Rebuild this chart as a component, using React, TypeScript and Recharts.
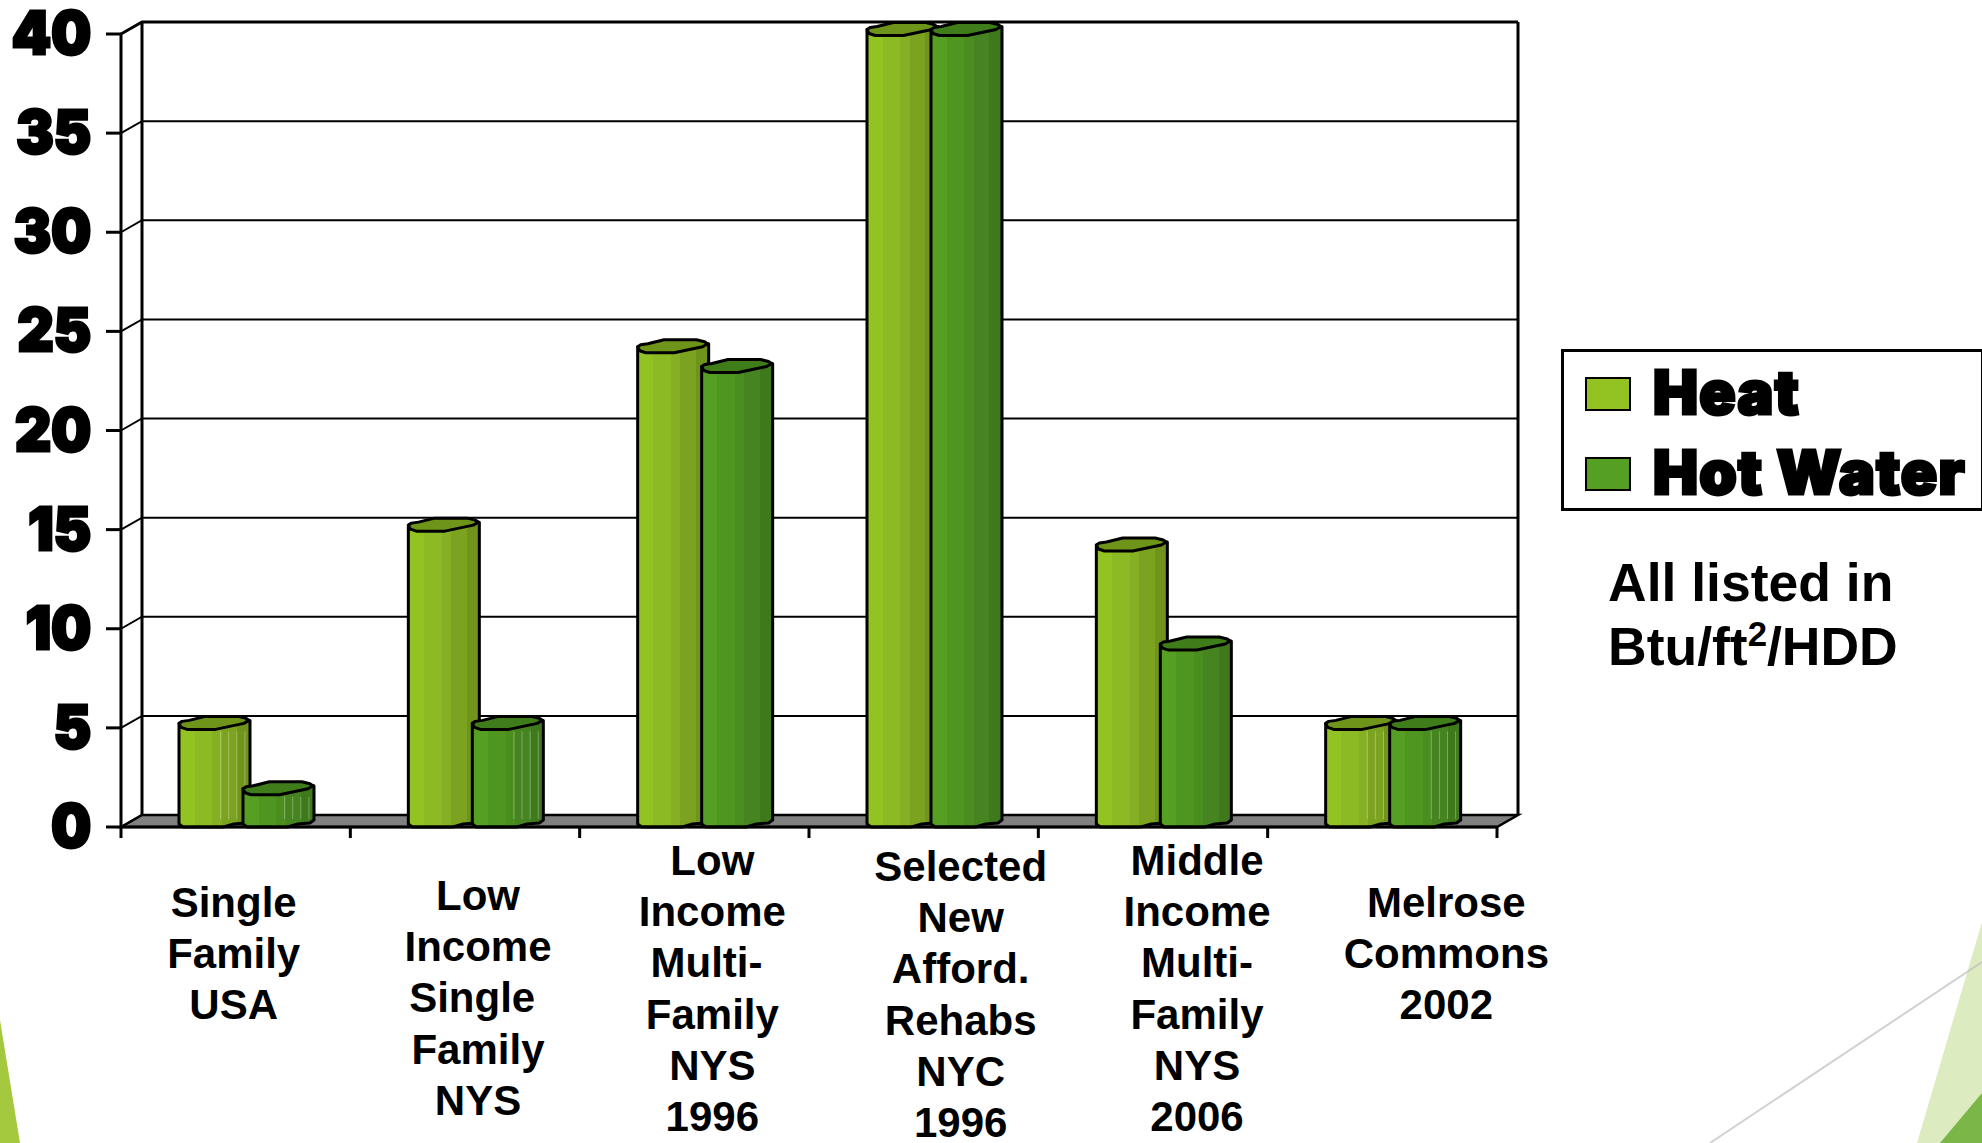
import { Bar, BarChart, CartesianGrid, Legend, XAxis, YAxis } from "recharts"

const categories = [
  ["Single", "Family", "USA"],
  ["Low", "Income", "Single ", "Family", "NYS"],
  ["Low", "Income", "Multi- ", "Family", "NYS", "1996"],
  ["Selected", "New", "Afford.", "Rehabs", "NYC", "1996"],
  ["Middle", "Income", "Multi-", "Family", "NYS", "2006"],
  ["Melrose", "Commons", "2002"],
]
const heat = [5, 15, 24, 40, 14, 5]
const hotWater = [1.7, 5, 23, 40, 9, 5]
const yTicks = [0, 5, 10, 15, 20, 25, 30, 35, 40]

// label block placement under each category band
const labelShift = [-2, 13, 18, 37, 44, 64]
const labelTop = [902, 895, 860, 866, 860, 902]

const data = categories.map((lines, i) => ({
  name: lines.join(" "),
  index: i,
  heat: heat[i],
  hotWater: hotWater[i],
}))

const WIDTH = 1982
const HEIGHT = 1143
const LEFT = 121
const RIGHT = 1497
const TOP = 34
const BOTTOM = 827
const DEPTH_X = 21
const DEPTH_Y = 12
const BAND = (RIGHT - LEFT) / categories.length

const heavyFont = "Inter, 'DejaVu Sans', sans-serif"
const bodyFont = "'Liberation Sans', Arial, sans-serif"

const heatStops = ["#92C323", "#8BBA24", "#85B023", "#7CA320", "#6F931B"]
const waterStops = ["#559F22", "#4F9620", "#4B8E20", "#458420", "#3F791C"]

function steppedStops(colors: string[]) {
  const edges = [0, 22, 47, 60, 82, 100]
  return colors.flatMap((c, i) => [
    <stop key={i + "a"} offset={edges[i] + "%"} stopColor={c} />,
    <stop key={i + "b"} offset={edges[i + 1] + "%"} stopColor={c} />,
  ])
}

// faceted cylinder standing on the floor of the 3D box
function Cylinder(props: any, gradient: string, capColor: string) {
  const { x, width, height, value } = props
  const y = props.y + 1.5
  const x0 = x + 7
  const w = width + 7
  const k = w / 70
  const base = props.y + height
  const px = (d: number) => x0 + d * k
  const body = [
    `M${px(0)},${y - 6}`,
    `L${px(0)},${base - 3}`,
    `L${px(4)},${base}`,
    `L${px(44)},${base}`,
    `L${px(54)},${base - 3}`,
    `L${px(66)},${base - 4}`,
    `L${px(70)},${base - 7}`,
    `L${px(70)},${y - 9}`,
    "Z",
  ].join(" ")
  const cap = [
    `M${px(0)},${y - 6}`,
    `L${px(3)},${y - 8}`,
    `L${px(10)},${y - 9}`,
    `L${px(26)},${y - 13}`,
    `L${px(58)},${y - 13}`,
    `L${px(66)},${y - 11}`,
    `L${px(69)},${y - 9}`,
    `L${px(64)},${y - 6}`,
    `L${px(50)},${y - 3}`,
    `L${px(36)},${y}`,
    `L${px(8)},${y}`,
    `L${px(2)},${y - 2}`,
    "Z",
  ].join(" ")
  return (
    <g>
      <path d={body} fill={`url(#${gradient})`} stroke="#000" strokeWidth={3} strokeLinejoin="round" />
      {value <= 5 &&
        [41, 49, 57, 65].map((d) => (
          <line key={d} x1={px(d)} x2={px(d)} y1={y + 2} y2={base - 8} stroke="#fff" strokeOpacity={0.3} strokeWidth={1} />
        ))}
      <path d={cap} fill={capColor} stroke="#000" strokeWidth={3} strokeLinejoin="round" />
    </g>
  )
}

// back wall, floor and receding grid lines
function GridLine(props: any) {
  const { x1, x2, y1, index } = props
  const isFloor = Math.abs(y1 - BOTTOM) < 1
  const isTop = Math.abs(y1 - TOP) < 1
  return (
    <g key={index}>
      {isFloor && (
        <polygon
          points={`${LEFT},${BOTTOM} ${LEFT + DEPTH_X},${BOTTOM - DEPTH_Y} ${RIGHT + DEPTH_X},${BOTTOM - DEPTH_Y} ${RIGHT},${BOTTOM}`}
          fill="#808080"
          stroke="#000"
          strokeWidth={2.5}
        />
      )}
      {isTop && (
        <>
          <line x1={x1 + DEPTH_X} x2={x1 + DEPTH_X} y1={TOP - DEPTH_Y} y2={BOTTOM - DEPTH_Y} stroke="#000" strokeWidth={3} />
          <line x1={x2 + DEPTH_X} x2={x2 + DEPTH_X} y1={TOP - DEPTH_Y} y2={BOTTOM - DEPTH_Y} stroke="#000" strokeWidth={3} />
        </>
      )}
      <polyline
        points={`${x1},${y1} ${x1 + DEPTH_X},${y1 - DEPTH_Y} ${x2 + DEPTH_X},${y1 - DEPTH_Y}`}
        fill="none"
        stroke="#000"
        strokeWidth={isTop ? 3 : 2}
      />
    </g>
  )
}

function CategoryTick(props: any) {
  const { x, index } = props
  const lines = categories[index]
  const left = x - BAND / 2
  return (
    <g>
      <line x1={left} x2={left} y1={BOTTOM} y2={BOTTOM + 11} stroke="#000" strokeWidth={3} />
      {index === categories.length - 1 && (
        <line x1={left + BAND} x2={left + BAND} y1={BOTTOM} y2={BOTTOM + 11} stroke="#000" strokeWidth={3} />
      )}
      <text
        textAnchor="middle"
        fontFamily={bodyFont}
        fontWeight={700}
        fontSize={42}
        fill="#000"
        style={{ whiteSpace: "pre" }}
      >
        {lines.map((line, i) => (
          <tspan key={i} x={x + labelShift[index]} y={labelTop[index] + 15 + i * 51.2}>
            {line}
          </tspan>
        ))}
      </text>
    </g>
  )
}

function ValueTick(props: any) {
  const { x, y, payload } = props
  return (
    <text
      transform={`translate(${x},${y + 20}) scale(0.95,1)`}
      textAnchor="end"
      fontFamily={heavyFont}
      fontWeight={900}
      fontSize={59}
      fill="#000"
      stroke="#000"
      strokeWidth={3}
      strokeLinejoin="miter"
    >
      {payload.value}
    </text>
  )
}

function LegendBox(props: any) {
  const { payload } = props
  return (
    <div
      style={{
        width: 417,
        height: 156,
        border: "3px solid #000",
        background: "#fff",
        boxSizing: "content-box",
      }}
    >
      {payload.map((entry: any, i: number) => (
        <div
          key={entry.value}
          style={{ position: "absolute", left: 0, top: 0, width: "100%", height: "100%" }}
        >
          <div
            style={{
              position: "absolute",
              left: 24,
              top: 28 + i * 80,
              width: 42,
              height: 30,
              background: entry.color,
              border: "2.5px solid #000",
            }}
          />
          <div
            style={{
              position: "absolute",
              left: 92,
              top: 8 + i * 80,
              fontFamily: heavyFont,
              fontWeight: 900,
              fontSize: 60,
              lineHeight: "70px",
              letterSpacing: 1.3,
              color: "#000",
              whiteSpace: "nowrap",
              WebkitTextStroke: "3px #000",
            }}
          >
            {entry.value}
          </div>
        </div>
      ))}
    </div>
  )
}

export default function App() {
  return (
    <div style={{ position: "absolute", left: 0, top: 0, width: WIDTH, height: HEIGHT, overflow: "hidden", background: "#fff" }}>
      <svg width={WIDTH} height={HEIGHT} style={{ position: "absolute", left: 0, top: 0 }}>
        <polygon points="0,1020 20,1143 0,1143" fill="#A4C93F" />
        <polygon points="1982,922 1982,1143 1917,1143" fill="#DDEBC0" />
        <polygon points="1982,1093 1982,1143 1940,1143" fill="#7AB648" />
        <line x1={1710} y1={1143} x2={1982} y2={962} stroke="#BDBDBD" strokeOpacity={0.7} strokeWidth={2} />
      </svg>
      <div style={{ position: "absolute", left: 0, top: 0 }}>
        <BarChart
          width={WIDTH}
          height={HEIGHT}
          data={data}
          barSize={64}
          barGap={0}
          margin={{ top: TOP, left: 21, right: WIDTH - RIGHT, bottom: HEIGHT - BOTTOM - 60 }}
          style={{ background: "transparent" }}
        >
          <defs>
            <linearGradient id="heatFill" x1="0" x2="1" y1="0" y2="0">
              {steppedStops(heatStops)}
            </linearGradient>
            <linearGradient id="waterFill" x1="0" x2="1" y1="0" y2="0">
              {steppedStops(waterStops)}
            </linearGradient>
          </defs>
          <CartesianGrid vertical={false} horizontal={GridLine} syncWithTicks />
          <XAxis
            dataKey="name"
            height={60}
            interval={0}
            axisLine={{ stroke: "#000", strokeWidth: 3 }}
            tickLine={false}
            tick={CategoryTick}
          />
          <YAxis
            width={100}
            domain={[0, 40]}
            ticks={yTicks}
            interval={0}
            tickSize={15}
            tickMargin={15}
            axisLine={{ stroke: "#000", strokeWidth: 3 }}
            tickLine={{ stroke: "#000", strokeWidth: 3 }}
            tick={ValueTick}
          />
          <Legend
            layout="horizontal"
            verticalAlign="middle"
            content={LegendBox}
            wrapperStyle={{ position: "absolute", left: 1561, top: 349, width: 423, height: 162, margin: 0 }}
          />
          <Bar
            dataKey="heat"
            name="Heat"
            fill="#92C323"
            isAnimationActive={false}
            shape={(p: any) => Cylinder(p, "heatFill", "#6E9419")}
          />
          <Bar
            dataKey="hotWater"
            name="Hot Water"
            fill="#559F22"
            isAnimationActive={false}
            shape={(p: any) => Cylinder(p, "waterFill", "#3F7C1A")}
          />
        </BarChart>
      </div>
      <div
        style={{
          position: "absolute",
          left: 1608,
          top: 551,
          fontFamily: bodyFont,
          fontWeight: 700,
          fontSize: 53.5,
          lineHeight: "64px",
          color: "#000",
          whiteSpace: "nowrap",
        }}
      >
        All listed in
        <br />
        Btu/ft<sup style={{ fontSize: "0.65em", lineHeight: 0 }}>2</sup>/HDD
      </div>
    </div>
  )
}
